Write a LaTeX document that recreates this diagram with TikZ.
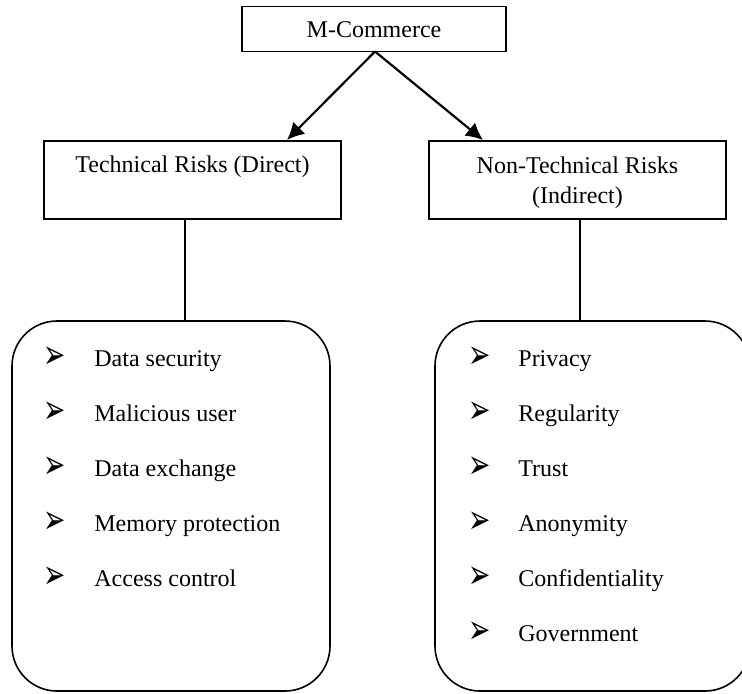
\documentclass[tikz,border=0pt]{standalone}
\usepackage{fontspec}
\setmainfont{Liberation Serif}
\newfontfamily\symfont{DejaVu Sans}[BoldFont={DejaVu Sans Bold}]
\usetikzlibrary{arrows.meta}
\tikzset{
  boxnode/.style={draw,line width=0.8pt,minimum width=148.5pt,minimum height=39pt,
    inner sep=0pt},
  boxtitle/.style={anchor=base,inner sep=0pt,font=\fontsize{12}{14}\selectfont},
  groupbox/.style={draw,line width=0.8pt,rounded corners=22.5pt},
  feed/.style={line width=1.1pt,-{Latex[length=8.5pt,width=8.5pt]}},
  stem/.style={line width=0.6pt},
  item/.style={anchor=base west,inner sep=0pt,font=\fontsize{12}{14}\selectfont},
  bulletglyph/.style={inner sep=0pt,font=\symfont\bfseries\fontsize{14}{16}\selectfont},
}
% narrower, taller arrowhead bullet
\newcommand\arrowbul{\scalebox{0.95}[1.45]{➢}}
\begin{document}
\begin{tikzpicture}[x=0.5pt,y=-0.5pt]
  \clip (0,0) rectangle (742,693);
  \useasboundingbox (0,0) rectangle (742,693);

  % top level
  \node[boxnode,minimum width=132pt,minimum height=22.5pt] (mc) at (374,29) {};
  \node[boxtitle] (mct) at (374,37) {M-Commerce};

  % category boxes, titles set near the top
  \node[boxnode] (tech) at (192.5,180) {};
  \node[boxtitle] (techt) at (192.5,172) {Technical Risks (Direct)};
  \node[boxnode] (nontech) at (577.5,180) {};
  \node[boxtitle] (nontt) at (577.5,173) {Non-Technical Risks};
  \node[boxtitle] (nonti) at (577.5,203) {(Indirect)};

  % arrows from the root
  \coordinate (root) at (375,51.5);
  \coordinate (tl) at (287,140);
  \coordinate (tr) at (483,140);
  \draw[feed] (root) -- (tl);
  \draw[feed] (root) -- (tr);

  % rounded groups
  \draw[groupbox] (12,321) rectangle (330,691);
  \draw[groupbox] (435,321) rectangle (750,691);
  \coordinate (gl) at (185,321);
  \coordinate (gr) at (580,321);
  \draw[stem] (185,219.5) -- (gl);
  \draw[stem] (580,219.5) -- (gr);

  % technical risks
  \foreach \t [count=\i] in {Data security,Malicious user,Data exchange,Memory protection,Access control}{
    \node[bulletglyph] (lm\i) at (55,{302.5+55*\i}) {\arrowbul};
    \node[item] (li\i) at (94,{311+55*\i}) {\t};
  }
  % non-technical risks
  \foreach \t [count=\i] in {Privacy,Regularity,Trust,Anonymity,Confidentiality,Government}{
    \node[bulletglyph] (rm\i) at (480,{302.5+55*\i}) {\arrowbul};
    \node[item] (ri\i) at (518,{311+55*\i}) {\t};
  }
\end{tikzpicture}
\end{document}
